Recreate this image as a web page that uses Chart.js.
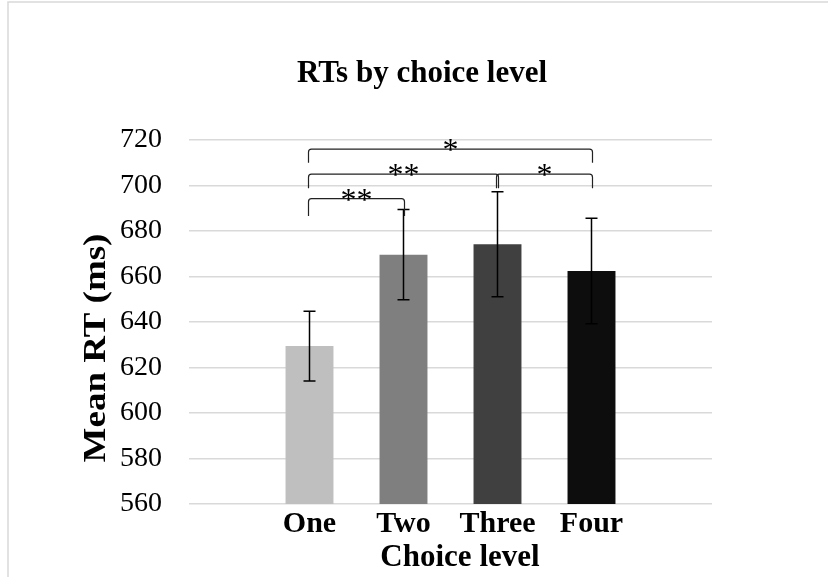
<!DOCTYPE html>
<html>
<head>
<meta charset="utf-8">
<script src="https://cdn.jsdelivr.net/npm/chart.js@4"></script>
<style>
  html,body{margin:0;padding:0;background:#fff;}
  canvas{display:block;}
</style>
</head>
<body>
<canvas id="rtChart" width="828" height="577"></canvas>
<script>
// data
const categories = ['One', 'Two', 'Three', 'Four'];
const meanRT = [629.4, 669.6, 674.2, 662.4];
const errRT  = [15.3, 19.8, 23.1, 23.2];
const barColors = ['#bfbfbf', '#7f7f7f', '#404040', '#0d0d0d'];
const yTicks = [560, 580, 600, 620, 640, 660, 680, 700, 720];

// significance brackets: from bar, to bar, top of bracket, foot of bracket, label
const sigFrom  = [0, 0, 2, 0];
const sigTo    = [3, 2, 3, 1];
const sigTop   = [716, 705, 705, 694.2];
const sigFoot  = [710, 698.8, 698.8, 686.6];
const sigLabel = ['*', '**', '*', '**'];

const SERIF = '"Liberation Serif", "Times New Roman", serif';

const errorBars = {
  id: 'errorBars',
  afterDatasetsDraw(chart){
    const {ctx, scales:{x, y}} = chart;
    ctx.save();
    ctx.strokeStyle = '#000';
    ctx.lineWidth = 1.5;
    meanRT.forEach((m, i) => {
      const px = x.getPixelForValue(i);
      const top = y.getPixelForValue(m + errRT[i]);
      const bot = y.getPixelForValue(m - errRT[i]);
      ctx.beginPath();
      ctx.moveTo(px, top); ctx.lineTo(px, bot);
      ctx.moveTo(px - 6, top); ctx.lineTo(px + 6, top);
      ctx.moveTo(px - 6, bot); ctx.lineTo(px + 6, bot);
      ctx.stroke();
    });
    ctx.restore();
  }
};

const brackets = {
  id: 'brackets',
  afterDraw(chart){
    const {ctx, scales:{x, y}} = chart;
    ctx.save();
    ctx.strokeStyle = '#222';
    ctx.lineWidth = 1.2;
    ctx.fillStyle = '#000';
    ctx.font = '32px ' + SERIF;
    ctx.textAlign = 'center';
    ctx.textBaseline = 'alphabetic';
    sigLabel.forEach((lab, i) => {
      const l = x.getPixelForValue(sigFrom[i]) - 1;
      const r = x.getPixelForValue(sigTo[i]) + 1;
      const t = y.getPixelForValue(sigTop[i]);
      const f = y.getPixelForValue(sigFoot[i]);
      const rad = 3;
      ctx.beginPath();
      ctx.moveTo(l, f);
      ctx.lineTo(l, t + rad);
      ctx.quadraticCurveTo(l, t, l + rad, t);
      ctx.lineTo(r - rad, t);
      ctx.quadraticCurveTo(r, t, r, t + rad);
      ctx.lineTo(r, f);
      ctx.stroke();
      ctx.fillText(lab, (l + r) / 2, t + 11);
    });
    ctx.restore();
  }
};

const textAndFrame = {
  id: 'textAndFrame',
  beforeDraw(chart){
    const ctx = chart.ctx;
    ctx.save();
    ctx.fillStyle = '#fff';
    ctx.fillRect(0, 0, chart.width, chart.height);
    ctx.strokeStyle = '#d9d9d9';
    ctx.lineWidth = 1.5;
    ctx.beginPath();
    ctx.moveTo(8, chart.height); ctx.lineTo(8, 2); ctx.lineTo(chart.width, 2);
    ctx.stroke();
    ctx.restore();
  },
  afterDraw(chart){
    const ctx = chart.ctx;
    ctx.save();
    ctx.fillStyle = '#000';
    ctx.textAlign = 'center';
    ctx.textBaseline = 'alphabetic';
    ctx.font = 'bold 31px ' + SERIF;
    ctx.fillText('RTs by choice level', 422, 82);
    ctx.fillText('Choice level', 460, 566);
    ctx.translate(97, 348);
    ctx.scale(0.88, 1);
    ctx.rotate(-Math.PI / 2);
    ctx.textBaseline = 'middle';
    ctx.font = 'bold 37px ' + SERIF;
    ctx.fillText('Mean RT (ms)', 0, 0);
    ctx.restore();
  }
};

new Chart(document.getElementById('rtChart').getContext('2d'), {
  type: 'bar',
  data: {
    datasets: [{
      data: meanRT.map((v, i) => ({x: i, y: v})),
      backgroundColor: barColors,
      barPercentage: 0.51,
      categoryPercentage: 1
    }]
  },
  options: {
    responsive: false,
    animation: false,
    devicePixelRatio: 1,
    layout: { padding: { left: 0, top: 140, right: 116, bottom: 0 } },
    plugins: { legend: { display: false }, tooltip: { enabled: false } },
    scales: {
      x: {
        type: 'linear',
        offset: false,
        min: -1.282, max: 4.282,
        grid: { display: false },
        border: { display: false },
        afterBuildTicks: s => { s.ticks = categories.map((c, i) => ({value: i})); },
        afterFit: s => { s.height = 73; },
        ticks: {
          autoSkip: false,
          maxRotation: 0,
          padding: -6,
          color: '#000',
          font: { family: SERIF, size: 30, weight: 'bold' },
          callback: v => categories[v]
        }
      },
      y: {
        min: 560, max: 720,
        afterBuildTicks: s => { s.ticks = yTicks.map(v => ({value: v})); },
        afterFit: s => { s.width = 189; },
        grid: { color: '#d9d9d9', lineWidth: 1.5, drawTicks: false },
        border: { display: false },
        ticks: {
          padding: 27,
          color: '#000',
          font: { family: SERIF, size: 28 }
        }
      }
    }
  },
  plugins: [textAndFrame, errorBars, brackets]
});
</script>
</body>
</html>
